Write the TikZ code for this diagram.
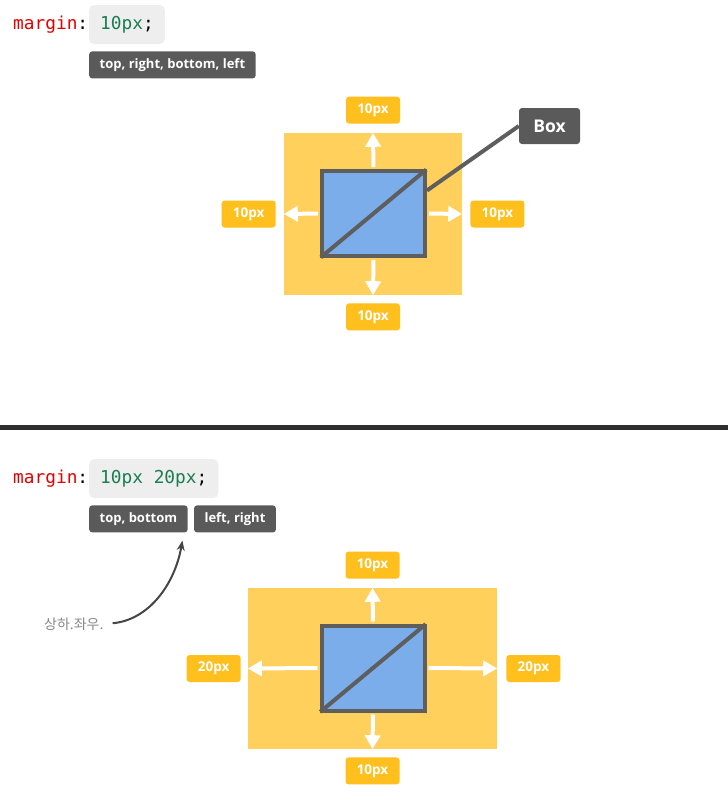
\documentclass[tikz,border=0pt]{standalone}
\usepackage{fontspec}
\setmainfont{Open Sans}
\setmonofont{DejaVu Sans Mono}
\newfontfamily\kofont{Noto Sans CJK KR}
\usetikzlibrary{positioning,arrows.meta}
\definecolor{cssred}{RGB}{226,0,0}
\definecolor{cssgreen}{RGB}{26,125,80}
\definecolor{codebg}{RGB}{238,238,238}
\definecolor{taggray}{RGB}{90,90,90}
\definecolor{pxamber}{RGB}{255,191,28}
\definecolor{areayellow}{RGB}{255,208,91}
\definecolor{boxblue}{RGB}{123,173,235}
\definecolor{boxgray}{RGB}{94,94,94}
\definecolor{notegray}{RGB}{136,136,136}
\definecolor{rulegray}{RGB}{46,46,46}
\tikzset{
	cssline/.style={font=\ttfamily\fontsize{17.8}{20}\selectfont, inner sep=0pt},
	codebox/.style={cssline, fill=codebg, rounded corners=5pt, minimum height=39pt, inner xsep=11pt},
	darktag/.style={fill=taggray, text=white, font=\bfseries\fontsize{13}{15}\selectfont, rounded corners=3pt, minimum height=27pt, inner xsep=10.5pt, inner ysep=0pt},
	pxtag/.style={fill=pxamber, text=white, font=\bfseries\fontsize{13.5}{15}\selectfont, rounded corners=3pt, minimum width=54pt, minimum height=27pt, inner sep=0pt},
	area/.style={fill=areayellow, inner sep=0pt},
	boxarea/.style={fill=boxblue, draw=boxgray, line width=4pt, minimum width=103pt, minimum height=85pt, inner sep=0pt},
	growarrow/.style={draw=white, line width=4pt, shorten <=2pt, -{Triangle[length=14pt,width=15pt]}},
	boxline/.style={draw=boxgray, line width=4pt},
	note/.style={text=notegray, font=\kofont\fontsize{14}{16}\selectfont, inner sep=0pt},
	notearrow/.style={draw=boxgray!75!black, line width=2pt, shorten <=9pt, -{Stealth[length=10pt,width=8pt]}}
}
\begin{document}
\begin{tikzpicture}[x=1pt,y=1pt]
	\useasboundingbox (0,0) rectangle (728,-803);
	\node[cssline, anchor=west] (prop1) at (13,-24.5) {\textcolor{cssred}{margin}:};
	\node[codebox, anchor=west] (val1) at (89,-24.5) {\textcolor{cssgreen}{10px};};
	\node[darktag, below right=7pt and 0pt of val1.south west] (tag1) {top, right, bottom, left};
	\node[area, minimum width=178pt, minimum height=162pt] (m1) at (373,-214) {};
	\node[boxarea] (b1) at (373.5,-213.5) {};
	\draw[boxline, shorten <=1pt, shorten >=1pt] (b1.south west) -- (b1.north east);
	\draw[growarrow] (b1.north) -- (m1.north);
	\draw[growarrow] (b1.south) -- (m1.south);
	\draw[growarrow] (b1.west) -- (m1.west);
	\draw[growarrow] (b1.east) -- (m1.east);
	\node[pxtag, above=9pt of m1] (top1) {10px};
	\node[pxtag, below=8pt of m1] (bottom1) {10px};
	\node[pxtag, left=8pt of m1] (left1) {10px};
	\node[pxtag, right=8pt of m1] (right1) {10px};
	\node[darktag, font=\bfseries\fontsize{17.5}{20}\selectfont, minimum width=61pt, minimum height=36pt] (boxname) at (549.5,-126) {Box};
	\draw[boxline] ([yshift=23pt]b1.east) -- (boxname.west);
	\draw[line width=5pt, rulegray] (0,-427.5) -- (728,-427.5);
	\node[cssline, anchor=west] (prop2) at (13,-478.5) {\textcolor{cssred}{margin}:};
	\node[codebox, anchor=west] (val2) at (89,-478.5) {\textcolor{cssgreen}{10px 20px};};
	\node[darktag, below right=7pt and 0pt of val2.south west] (tag2) {top, bottom};
	\node[darktag, right=6pt of tag2] (tag3) {left, right};
	\node[note, anchor=west] (note) at (44,-624) {상하.좌우.};
	\coordinate (aim) at ([shift={(44pt,-8pt)}]tag2.south);
	\draw[notearrow] (note.east) to[out=5,in=-100] (aim);
	\node[area, minimum width=249pt, minimum height=161pt] (m2) at (372.5,-668.5) {};
	\node[boxarea] (b2) at (373,-668) {};
	\draw[boxline, shorten <=1pt, shorten >=1pt] (b2.south west) -- (b2.north east);
	\draw[growarrow] (b2.north) -- (m2.north);
	\draw[growarrow] (b2.south) -- (m2.south);
	\draw[growarrow] (b2.west) -- (m2.west);
	\draw[growarrow] (b2.east) -- (m2.east);
	\node[pxtag, above=9pt of m2] (top2) {10px};
	\node[pxtag, below=8pt of m2] (bottom2) {10px};
	\node[pxtag, left=7pt of m2] (left2) {20px};
	\node[pxtag, right=9pt of m2] (right2) {20px};
\end{tikzpicture}
\end{document}
